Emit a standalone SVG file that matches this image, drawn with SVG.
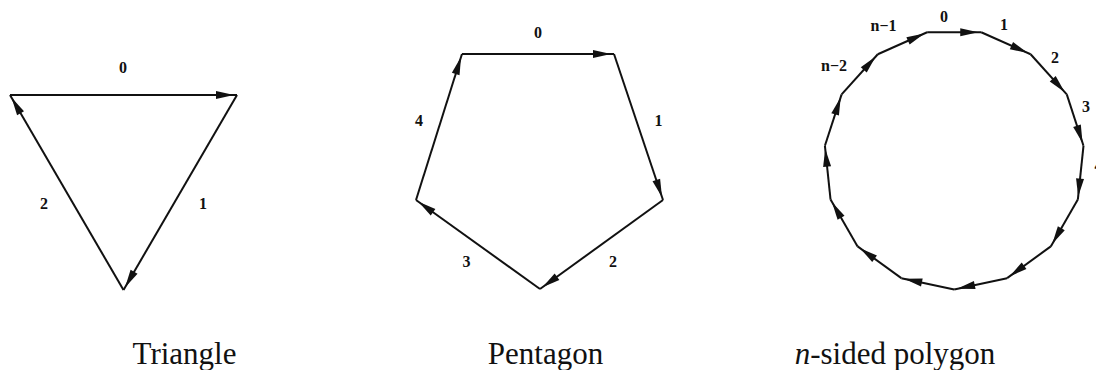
<svg xmlns="http://www.w3.org/2000/svg" width="1096" height="370" viewBox="0 0 1096 370">
<style>
.e{stroke:#111;stroke-width:2;fill:none;marker-end:url(#arr)}
.lbl{font-family:"Liberation Serif","Times New Roman",serif;font-weight:bold;font-size:16px;text-anchor:middle;fill:#111}
.cap{font-family:"Liberation Serif","Times New Roman",serif;font-size:31px;text-anchor:middle;fill:#111}
</style>
<defs>
<marker id="arr" markerUnits="userSpaceOnUse" markerWidth="24" markerHeight="9" viewBox="0 0 24 9" refX="21" refY="4.5" orient="auto" overflow="visible">
<path d="M0,0.5 L18,4.5 L0,8.5 z" fill="#111"/>
</marker>
</defs>
<rect width="1096" height="370" fill="#fff"/>

<g id="triangle">
<g id="triangle-edges">
<line class="e" x1="10" y1="95" x2="237" y2="95"/>
<line class="e" x1="237" y1="95" x2="123.5" y2="290"/>
<line class="e" x1="123.5" y1="290" x2="10" y2="95"/>
</g>
<g id="triangle-labels">
<text class="lbl" x="123" y="73">0</text>
<text class="lbl" x="203" y="209">1</text>
<text class="lbl" x="44" y="209">2</text>
</g>
</g>

<g id="pentagon">
<g id="pentagon-edges">
<line class="e" x1="462" y1="54" x2="614" y2="54"/>
<line class="e" x1="614" y1="54" x2="663" y2="200"/>
<line class="e" x1="663" y1="200" x2="540" y2="289"/>
<line class="e" x1="540" y1="289" x2="416" y2="200"/>
<line class="e" x1="416" y1="200" x2="462" y2="54"/>
</g>
<g id="pentagon-labels">
<text class="lbl" x="538" y="38">0</text>
<text class="lbl" x="658.5" y="126">1</text>
<text class="lbl" x="613" y="267">2</text>
<text class="lbl" x="466.5" y="267">3</text>
<text class="lbl" x="419" y="126">4</text>
</g>
</g>

<g id="ngon">
<g id="ngon-edges">
<line class="e" x1="927.17" y1="32.24" x2="981.23" y2="32.24"/>
<line class="e" x1="981.23" y1="32.24" x2="1030.61" y2="54.23"/>
<line class="e" x1="1030.61" y1="54.23" x2="1066.78" y2="94.4"/>
<line class="e" x1="1066.78" y1="94.4" x2="1083.49" y2="145.81"/>
<line class="e" x1="1083.49" y1="145.81" x2="1077.84" y2="199.57"/>
<line class="e" x1="1077.84" y1="199.57" x2="1050.81" y2="246.39"/>
<line class="e" x1="1050.81" y1="246.39" x2="1007.08" y2="278.16"/>
<line class="e" x1="1007.08" y1="278.16" x2="954.2" y2="289.4"/>
<line class="e" x1="954.2" y1="289.4" x2="901.32" y2="278.16"/>
<line class="e" x1="901.32" y1="278.16" x2="857.59" y2="246.39"/>
<line class="e" x1="857.59" y1="246.39" x2="830.56" y2="199.57"/>
<line class="e" x1="830.56" y1="199.57" x2="824.91" y2="145.81"/>
<line class="e" x1="824.91" y1="145.81" x2="841.62" y2="94.4"/>
<line class="e" x1="841.62" y1="94.4" x2="877.79" y2="54.23"/>
<line class="e" x1="877.79" y1="54.23" x2="927.17" y2="32.24"/>
</g>
<g id="ngon-labels">
<text class="lbl" x="944" y="22">0</text>
<text class="lbl" x="1004" y="30">1</text>
<text class="lbl" x="1055" y="63">2</text>
<text class="lbl" x="1086" y="112">3</text>
<text class="lbl" x="1098.5" y="171">4</text>
<text class="lbl" x="883.5" y="31">n−1</text>
<text class="lbl" x="834" y="71">n−2</text>
</g>
</g>

<g id="captions">
<text class="cap" x="184.5" y="364">Triangle</text>
<text class="cap" x="545.5" y="364">Pentagon</text>
<text class="cap" x="895" y="364"><tspan font-style="italic">n</tspan>-sided polygon</text>
</g>
</svg>
